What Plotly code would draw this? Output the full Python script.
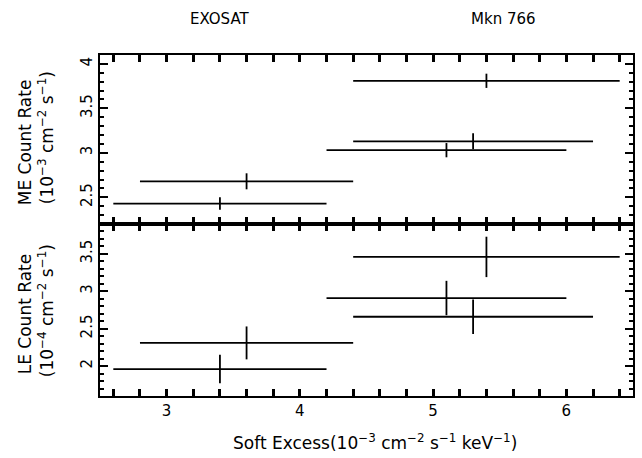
import plotly.graph_objects as go

# Soft excess (x) centres and half-widths, ME panel
soft_x = [3.4, 3.6, 5.4, 5.3, 5.1]
soft_xerr = [0.8, 0.8, 1.0, 0.9, 0.9]
# ME count rate (10^-3 cm^-2 s^-1)
me_rate = [2.43, 2.68, 3.81, 3.13, 3.03]
me_err = [0.07, 0.09, 0.08, 0.09, 0.08]
# LE panel: soft excess and LE count rate (10^-4 cm^-2 s^-1)
le_x = [3.4, 3.6, 5.4, 5.1, 5.3]
le_xerr = [0.8, 0.8, 1.0, 0.9, 0.9]
le_rate = [1.96, 2.31, 3.46, 2.91, 2.66]
le_err = [0.19, 0.22, 0.27, 0.23, 0.23]

# tick positions (x: every 0.2, labelled at integers)
x_ticks = [2.6, 2.8, 3, 3.2, 3.4, 3.6, 3.8, 4, 4.2, 4.4, 4.6, 4.8, 5, 5.2, 5.4, 5.6, 5.8, 6, 6.2, 6.4]
x_labels = ["", "", "3", "", "", "", "", "4", "", "", "", "", "5", "", "", "", "", "6", "", ""]
me_major = [2.5, 3, 3.5, 4]
le_major = [2, 2.5, 3, 3.5]

FONT = "DejaVu Sans"
W, H = 642, 458
L, R, T, B = 100, 635, 55, 396
MID = 224
split = 1 - (MID - T) / (B - T)

fig = go.Figure()

def errtrace(x, xe, y, ye, xa, ya):
    return go.Scatter(
        x=x, y=y, xaxis=xa, yaxis=ya, mode="markers",
        marker=dict(size=1, color="black"),
        error_x=dict(type="data", array=xe, width=0, thickness=1.8, color="black"),
        error_y=dict(type="data", array=ye, width=0, thickness=1.8, color="black"),
        showlegend=False, hoverinfo="skip",
    )

fig.add_trace(errtrace(soft_x, soft_xerr, me_rate, me_err, "x2", "y2"))
fig.add_trace(errtrace(le_x, le_xerr, le_rate, le_err, "x", "y"))

tickfont = dict(family=FONT, size=15, color="black")

def xax(anchor, labels):
    return dict(range=[2.5, 6.5], tickmode="array", tickvals=x_ticks, ticktext=x_labels,
                ticks="inside", ticklen=7, tickwidth=3, tickcolor="black",
                showline=True, linecolor="black", linewidth=2, mirror="ticks", anchor=anchor,
                domain=[0, 1], showgrid=False, zeroline=False, tickfont=tickfont,
                showticklabels=labels)

def yax(rng, anchor, dom, vals):
    return dict(range=rng, tickmode="array", tickvals=vals, ticktext=[f"{v:g}" for v in vals],
                ticks="inside", ticklen=8, tickwidth=2, tickcolor="black",
                showline=True, linecolor="black", linewidth=2, mirror="ticks", anchor=anchor, domain=dom,
                showgrid=False, zeroline=False, tickangle=-90, tickfont=tickfont,
                minor=dict(dtick=0.1, ticks="inside", ticklen=4, tickwidth=2, tickcolor="black",
                           showgrid=False))

fig.update_layout(
    width=W, height=H,
    margin=dict(l=L, r=W - R, t=T, b=H - B),
    paper_bgcolor="white", plot_bgcolor="white",
    xaxis=xax("y", True),
    xaxis2=xax("y2", False),
    yaxis=yax([1.6, 3.9], "x", [0, split], le_major),
    yaxis2=yax([2.2, 4.1], "x2", [split, 1], me_major),
)

def px_x(px):
    return (px - L) / (R - L)

def px_y(py):
    return (B - py) / (B - T)

tf = dict(family=FONT, size=15, color="black")
af = dict(family=FONT, size=17, color="black")
M = "\u2212"
ann = [
    dict(text="EXOSAT", x=px_x(220), y=px_y(19), font=tf),
    dict(text="Mkn 766", x=px_x(505), y=px_y(19), font=tf),
    dict(text=f"Soft Excess(10<sup>{M}3</sup> cm<sup>{M}2</sup> s<sup>{M}1</sup> keV<sup>{M}1</sup>)",
         x=px_x(376), y=px_y(442), font=af),
    dict(text="ME Count Rate", x=px_x(25), y=px_y(142), textangle=-90, font=af),
    dict(text=f"(10<sup>{M}3</sup> cm<sup>{M}2</sup> s<sup>{M}1</sup>)", x=px_x(46), y=px_y(138),
         textangle=-90, font=af),
    dict(text="LE Count Rate", x=px_x(25), y=px_y(314), textangle=-90, font=af),
    dict(text=f"(10<sup>{M}4</sup> cm<sup>{M}2</sup> s<sup>{M}1</sup>)", x=px_x(46), y=px_y(311),
         textangle=-90, font=af),
]
for a in ann:
    fig.add_annotation(xref="paper", yref="paper", showarrow=False,
                       xanchor="center", yanchor="middle", **a)

fig.write_html("out.html")
